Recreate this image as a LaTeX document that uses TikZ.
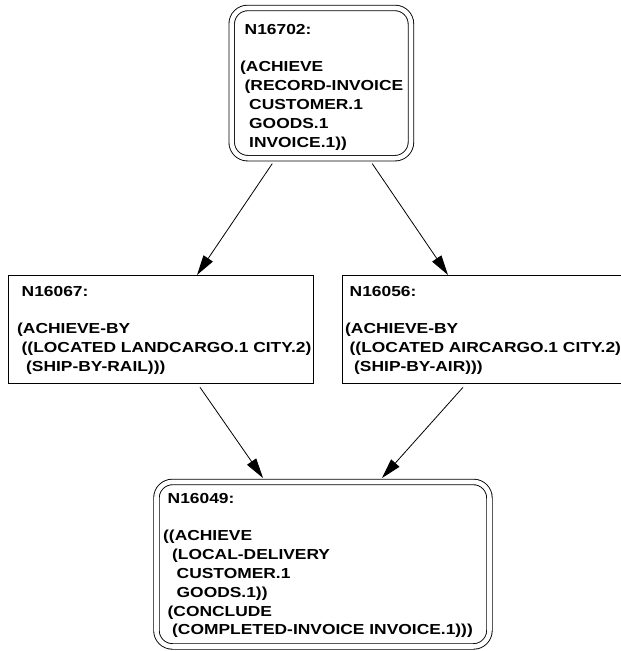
\documentclass[tikz,border=0pt]{standalone}
\usepackage{fontspec}
\newfontfamily\bmfont{Liberation Sans}[FakeStretch=1.2]
\usetikzlibrary{arrows.meta,calc}
\newcommand\indA{\hspace*{4.5pt}}
\newcommand\indB{\hspace*{9pt}}
\newcommand\indC{\hspace*{13.5pt}}
\begin{document}
\begin{tikzpicture}[x=1pt,y=-1pt,
  box/.style={draw=black, line width=1.3pt, inner sep=0pt, anchor=north west},
  dbox/.style={draw=black, line width=0.9pt, double=white, double distance=4.6pt, rounded corners=16pt, inner sep=0pt, anchor=north west},
  txt/.style={font=\bmfont\bfseries\fontsize{14.5}{18.8}\selectfont, align=left, inner sep=0pt, anchor=north west},
  arr/.style={draw=black, line width=0.8pt, -{Triangle[length=20pt,width=11pt]}}]
\useasboundingbox (0,0) rectangle (621,651);
\fill[white] (0,0) rectangle (621,651);
\begin{scope}
\clip (0,0) rectangle (621,651);
% boxes
\node[dbox, minimum width=179.25pt, minimum height=150.25pt] (n1) at (231.25,7.5) {};
\node[box, minimum width=305pt, minimum height=108pt] (n2) at (8,275) {};
\node[box, minimum width=282pt, minimum height=108pt] (n3) at (342,275) {};
\node[dbox, minimum width=333pt, minimum height=164.5pt] (n4) at (156,481.5) {};

% texts
\node[txt] (t1) at (240,24) {\indA N16702:\\ \mbox{}\\ (ACHIEVE\\ \indA(RECORD-INVOICE\\ \indB CUSTOMER.1\\ \indB GOODS.1\\ \indB INVOICE.1))};
\node[txt] (t2) at (17,286) {\indA N16067:\\ \mbox{}\\ (ACHIEVE-BY\\ \indA((LOCATED LANDCARGO.1 CITY.2)\\ \indB(SHIP-BY-RAIL)))};
\node[txt] (t3) at (345,286) {\indA N16056:\\ \mbox{}\\ (ACHIEVE-BY\\ \indA((LOCATED AIRCARGO.1 CITY.2)\\ \indB(SHIP-BY-AIR)))};
\node[txt] (t4) at (163,493) {\indA N16049:\\ \mbox{}\\ ((ACHIEVE\\ \indB(LOCAL-DELIVERY\\ \indC CUSTOMER.1\\ \indC GOODS.1))\\ \indA(CONCLUDE\\ \indB(COMPLETED-INVOICE INVOICE.1)))};

% connectors
\draw[arr] ([xshift=41pt,yshift=-5pt]n1.south west) -- ([xshift=189pt]n2.north west);
\draw[arr] ([xshift=141pt,yshift=-5pt]n1.south west) -- ([xshift=106pt]n3.north west);
\draw[arr] ([xshift=192pt,yshift=-3pt]n2.south west) -- ([xshift=107pt,yshift=3.5pt]n4.north west);
\draw[arr] ([xshift=121pt,yshift=-3pt]n3.south west) -- ([xshift=226pt,yshift=3.5pt]n4.north west);
\end{scope}
\end{tikzpicture}
\end{document}
